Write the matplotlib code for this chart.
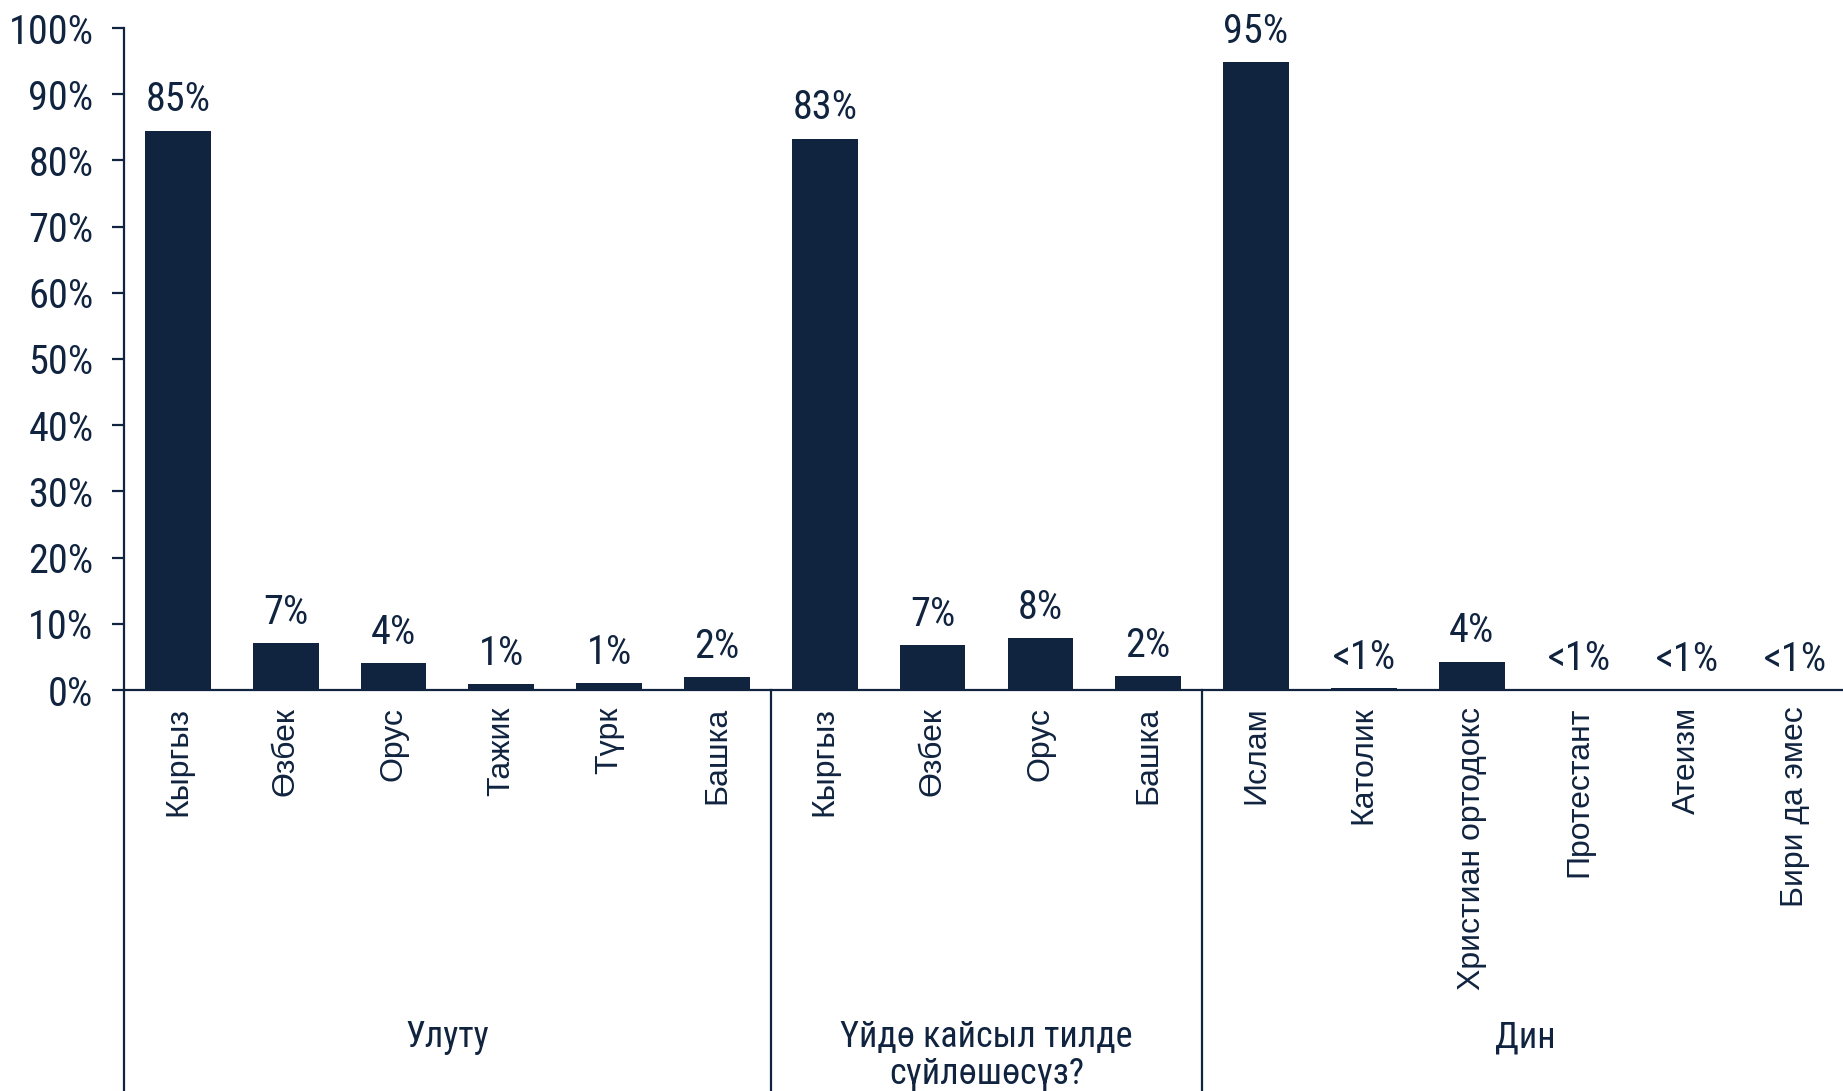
import matplotlib
matplotlib.use("Agg")
import matplotlib.pyplot as plt
from matplotlib import font_manager as fm
from matplotlib.ticker import PercentFormatter

# ---- data ----
groups = ["Улуту", "Үйдө кайсыл тилде\nсүйлөшөсүз?", "Дин"]
group_sizes = [6, 4, 6]
categories = ["Кыргыз", "Өзбек", "Орус", "Тажик", "Түрк", "Башка",
              "Кыргыз", "Өзбек", "Орус", "Башка",
              "Ислам", "Католик", "Христиан ортодокс", "Протестант", "Атеизм", "Бири да эмес"]
values = [84.5, 7.1, 4.1, 0.9, 1.0, 2.0,
          83.3, 6.8, 7.8, 2.1,
          94.9, 0.3, 4.3, 0.2, 0.05, 0.05]
value_labels = ["85%", "7%", "4%", "1%", "1%", "2%",
                "83%", "7%", "8%", "2%",
                "95%", "<1%", "4%", "<1%", "<1%", "<1%"]
yticks = [0, 10, 20, 30, 40, 50, 60, 70, 80, 90, 100]

NAVY = "#10233F"

names = {f.name for f in fm.fontManager.ttflist}
if "Roboto Condensed" in names:
    NARROW = dict(family=["Roboto Condensed", "DejaVu Sans"])
else:
    NARROW = dict(family=["DejaVu Sans"], stretch="condensed")
REGULAR = ["Liberation Sans", "DejaVu Sans"]

W, H = 1843, 1091
fig = plt.figure(figsize=(W / 100, H / 100), dpi=100)
left = 124 / W
right_px = 1849
bottom = (H - 690) / H
top = (H - 28) / H
ax = fig.add_axes([left, bottom, (right_px - 124) / W, top - bottom])

x = list(range(len(categories)))
ax.bar(x, values, width=0.61, color=NAVY, zorder=2)

ax.set_xlim(-0.5, len(categories) - 0.5)
ax.set_ylim(0, 100)

for xi, v, lab in zip(x, values, value_labels):
    ax.annotate(lab, (xi, v), xytext=(0, 8), textcoords="offset points",
                ha="center", va="bottom", color=NAVY, fontsize=29, **NARROW)

ax.set_yticks(yticks)
ax.yaxis.set_major_formatter(PercentFormatter(decimals=0))
ax.tick_params(axis="y", length=9, width=1.6, color=NAVY, pad=13, labelcolor=NAVY)
for t in ax.get_yticklabels():
    t.set_fontsize(29)
    t.set_family(NARROW["family"])
    if "stretch" in NARROW:
        t.set_stretch(NARROW["stretch"])

ax.set_xticks(x)
ax.set_xticklabels(categories, rotation=90, va="top", ha="center", color=NAVY,
                   fontsize=23, family=REGULAR)
ax.tick_params(axis="x", length=0, pad=12)

for s in ["top", "right"]:
    ax.spines[s].set_visible(False)
for s in ["left", "bottom"]:
    ax.spines[s].set_color(NAVY)
    ax.spines[s].set_linewidth(1.6)

# group separators and labels below the axis
trans = ax.get_xaxis_transform()
y_bottom_axes = -(690 / (690 - 28))
ax.plot([-0.5, -0.5], [0, y_bottom_axes], transform=trans, color=NAVY,
        lw=1.6, clip_on=False)
start = 0
for gname, n in zip(groups, group_sizes):
    end = start + n
    center = (start + end - 1) / 2
    ax.text(center, -(1019 - 690) / (690 - 28), gname, transform=trans,
            ha="center", va="top", color=NAVY, linespacing=1.02,
            fontsize=26, **NARROW)
    if end < len(categories):
        sx = end - 0.5
        ax.plot([sx, sx], [0, y_bottom_axes], transform=trans, color=NAVY,
                lw=1.6, clip_on=False)
    start = end

fig.savefig("out.png", dpi=100)
